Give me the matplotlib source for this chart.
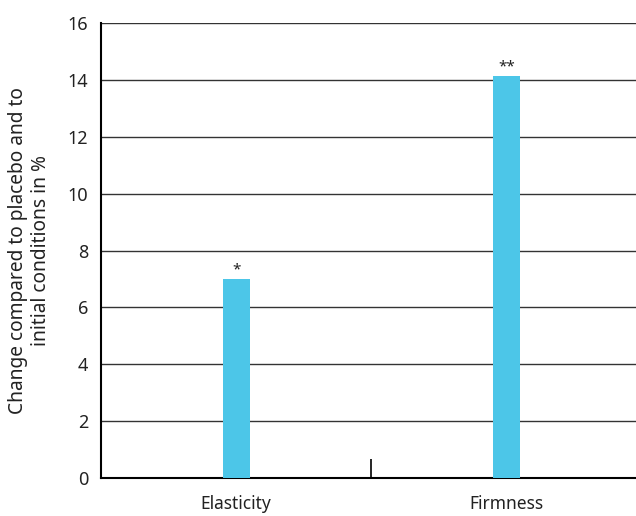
import matplotlib.pyplot as plt
import numpy as np

plt.rcParams['font.family'] = ['Noto Sans', 'DejaVu Sans']

categories = ['Elasticity', 'Firmness']
values = [7.0, 14.15]
stars = ['*', '**']
yticks = [0, 2, 4, 6, 8, 10, 12, 14, 16]

fig = plt.figure(figsize=(6.36, 5.16), dpi=100)
ax = fig.add_axes([101/636, 1 - 478/516, 1 - 101/636, 455/516])

x = np.arange(len(categories))
ax.bar(x, values, width=0.1, color='#4cc6e8', zorder=3)
for xi, v, s in zip(x, values, stars):
    ax.text(xi, v + 0.05, s, ha='center', va='bottom', fontsize=11, color='#222222')

ax.set_xlim(-0.5, 1.48)
ax.set_ylim(0, 16)
ax.set_yticks(yticks)
ax.set_yticklabels([str(t) for t in yticks], fontsize=13, color='#222222')
ax.yaxis.grid(True, color='#333333', linewidth=1.0, zorder=0)
ax.tick_params(axis='y', length=0, pad=9)

ax.set_xticks(x)
ax.set_xticklabels(categories, fontsize=12.5, color='#222222')
ax.tick_params(axis='x', length=0, pad=12)
ax.set_xticks([0.5], minor=True)
ax.tick_params(axis='x', which='minor', direction='in', length=14, width=1.2, color='black')

for side in ['top', 'right']:
    ax.spines[side].set_visible(False)
ax.spines['left'].set_linewidth(1.5)
ax.spines['bottom'].set_linewidth(1.5)

ax.set_ylabel('Change compared to placebo and to\ninitial conditions in %', fontsize=13.8,
              linespacing=1.2, labelpad=12, color='#222222')

fig.savefig('out.png', dpi=100)
